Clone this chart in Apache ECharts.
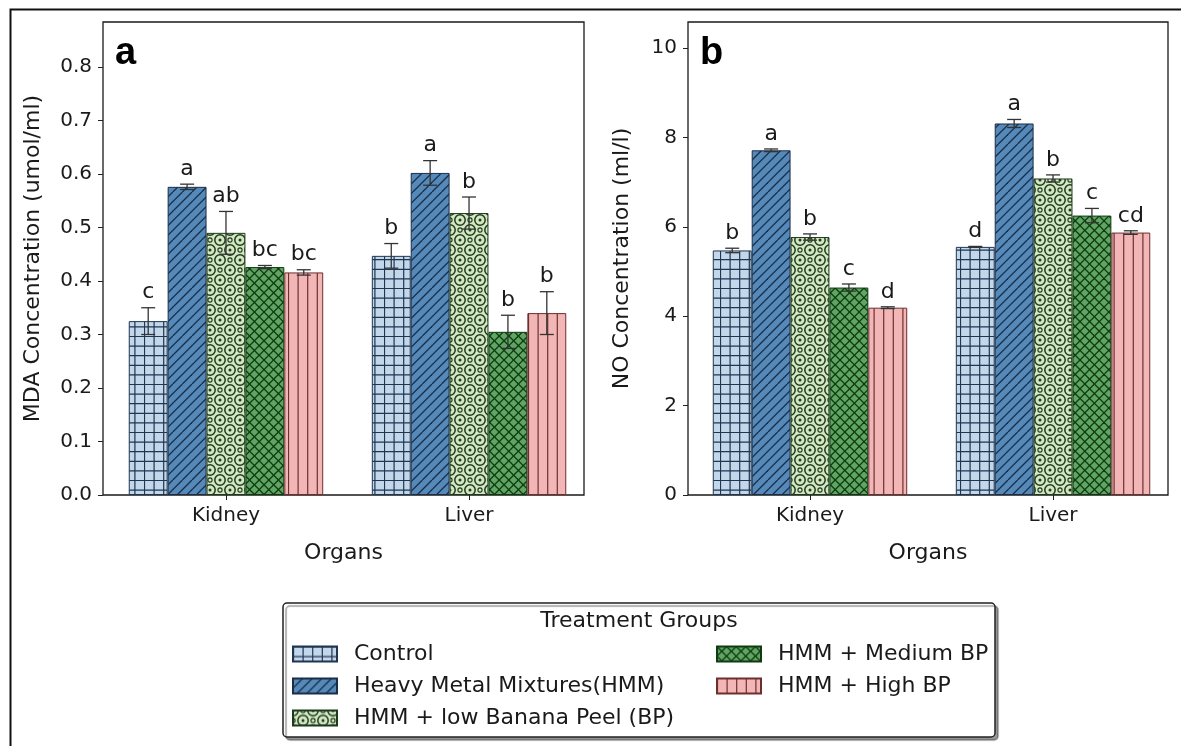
<!DOCTYPE html>
<html>
<head>
<meta charset="utf-8">
<script src="https://cdn.jsdelivr.net/npm/echarts@6/dist/echarts.min.js"></script>
<style>
  html, body { margin: 0; padding: 0; background: #fff; }
  #chart { width: 1181px; height: 746px; }
</style>
</head>
<body>
<div id="chart"></div>
<script>
// Organs on the x axis, treatment groups as grouped bars
const organs = ['Kidney', 'Liver'];
const groups = [
  'Control',
  'Heavy Metal Mixtures(HMM)',
  'HMM + low Banana Peel (BP)',
  'HMM + Medium BP',
  'HMM + High BP'
];

// Panel a: MDA concentration (umol/ml); rows = groups, columns = organs
const mdaMean = [[0.325, 0.447], [0.576, 0.602], [0.490, 0.527], [0.426, 0.305], [0.416, 0.340]];
const mdaErr = [[0.025, 0.023], [0.005, 0.023], [0.040, 0.030], [0.003, 0.031], [0.005, 0.040]];
const mdaLetters = [['c', 'b'], ['a', 'a'], ['ab', 'b'], ['bc', 'b'], ['bc', 'b']];

// Panel b: NO concentration (ml/l)
const noMean = [[5.47, 5.55], [7.71, 8.31], [5.77, 7.08], [4.64, 6.25], [4.19, 5.87]];
const noErr = [[0.05, 0.01], [0.03, 0.09], [0.07, 0.08], [0.08, 0.16], [0.02, 0.04]];
const noLetters = [['b', 'd'], ['a', 'a'], ['b', 'b'], ['c', 'c'], ['d', 'cd']];

// Tick labels
const yTicksA = [0, 0.1, 0.2, 0.3, 0.4, 0.5, 0.6, 0.7, 0.8];
const yTicksB = [0, 2, 4, 6, 8, 10];
const organTicks = [0, 1];

const FONT = '"DejaVu Sans", "Liberation Sans", sans-serif';
const TEXT = '#1a1a1a';
const BAR_FRAC = 0.16; // each bar takes 0.16 of the spacing between organs

// ---- hatch patterns ----
function tile(w, h, bg, draw) {
  const c = document.createElement('canvas');
  c.width = w; c.height = h;
  const ctx = c.getContext('2d');
  ctx.fillStyle = bg;
  ctx.fillRect(0, 0, w, h);
  draw(ctx);
  return { image: c, repeat: 'repeat' };
}
const S = 9.6, T = 48;
function gridHatch(ctx, col) {
  ctx.strokeStyle = col; ctx.lineWidth = 1.2;
  for (let k = 0; k < 5; k++) {
    const p = k * S + 0.5;
    ctx.beginPath(); ctx.moveTo(p, 0); ctx.lineTo(p, T); ctx.stroke();
    ctx.beginPath(); ctx.moveTo(0, p); ctx.lineTo(T, p); ctx.stroke();
  }
}
function diagHatch(ctx, col, both) {
  ctx.strokeStyle = col; ctx.lineWidth = 1.3;
  for (let k = -6; k <= 6; k++) {
    const o = k * S;
    ctx.beginPath(); ctx.moveTo(o, T); ctx.lineTo(o + T, 0); ctx.stroke();
    if (both) { ctx.beginPath(); ctx.moveTo(o, 0); ctx.lineTo(o + T, T); ctx.stroke(); }
  }
}
function vertHatch(ctx, col) {
  ctx.strokeStyle = col; ctx.lineWidth = 1.2;
  for (let k = 0; k < 5; k++) {
    const p = k * S + 0.5;
    ctx.beginPath(); ctx.moveTo(p, 0); ctx.lineTo(p, T); ctx.stroke();
  }
}
function ringHatch(ctx, col) {
  ctx.strokeStyle = col; ctx.fillStyle = col;
  // large rings with a centre dot, small rings in between (wrapped copies keep the tile seamless)
  const big = [[0, 0], [20, 0], [0, 20], [20, 20], [10, 10]];
  const small = [[10, 0], [10, 20], [0, 10], [20, 10]];
  big.forEach(([x, y]) => {
    ctx.lineWidth = 1.5;
    ctx.beginPath(); ctx.arc(x, y, 5.2, 0, Math.PI * 2); ctx.stroke();
    ctx.beginPath(); ctx.arc(x, y, 1.5, 0, Math.PI * 2); ctx.fill();
  });
  small.forEach(([x, y]) => {
    ctx.lineWidth = 1.1;
    ctx.beginPath(); ctx.arc(x, y, 2.1, 0, Math.PI * 2); ctx.stroke();
  });
}

const hatchColors = ['#1f3550', '#1b2e47', '#1e3a1c', '#0e3b10', '#6e2e2e'];
const fills = [
  tile(T, T, '#c3d7ea', ctx => gridHatch(ctx, hatchColors[0])),
  tile(T, T, '#5489b9', ctx => diagHatch(ctx, hatchColors[1], false)),
  tile(20, 20, '#d3e7c2', ctx => ringHatch(ctx, hatchColors[2])),
  tile(T, T, '#60a564', ctx => diagHatch(ctx, hatchColors[3], true)),
  tile(T, T, '#f2b6b6', ctx => vertHatch(ctx, hatchColors[4]))
];

// ---- panel layout ----
const panels = [
  { left: 103, width: 481, xMin: -0.506, xMax: 1.473, yMax: 0.8841, ticks: yTicksA,
    fmt: v => v.toFixed(1), name: 'MDA Concentration (umol/ml)', nameGap: 59,
    mean: mdaMean, err: mdaErr, letters: mdaLetters, tag: 'a' },
  { left: 688, width: 480, xMin: -0.502, xMax: 1.473, yMax: 10.58, ticks: yTicksB,
    fmt: v => String(Math.round(v)), name: 'NO Concentration (ml/l)', nameGap: 55,
    mean: noMean, err: noErr, letters: noLetters, tag: 'b' }
];
const TOP = 22, HEIGHT = 473;

const grid = panels.map(p => ({
  left: p.left, top: TOP, width: p.width, height: HEIGHT,
  show: true, borderColor: '#1a1a1a', borderWidth: 1.3, backgroundColor: 'transparent'
}));

const xAxis = panels.map((p, i) => ({
  type: 'value', gridIndex: i, min: p.xMin, max: p.xMax,
  axisLine: { show: false, onZero: false }, splitLine: { show: false },
  axisTick: { show: true, length: 5, customValues: organTicks, lineStyle: { color: '#222', width: 1 } },
  axisLabel: { customValues: organTicks, formatter: v => organs[Math.round(v)], margin: 11,
    fontSize: 20, fontFamily: FONT, color: TEXT },
  name: 'Organs', nameLocation: 'middle', nameGap: 47,
  nameTextStyle: { fontSize: 22, fontFamily: FONT, color: TEXT }
}));

const yAxis = panels.map((p, i) => ({
  type: 'value', gridIndex: i, min: 0, max: p.yMax,
  axisLine: { show: false, onZero: false }, splitLine: { show: false },
  axisTick: { show: true, length: 5, customValues: p.ticks, lineStyle: { color: '#222', width: 1 } },
  axisLabel: { customValues: p.ticks, formatter: p.fmt, margin: 11,
    fontSize: 20, fontFamily: FONT, color: TEXT },
  name: p.name, nameLocation: 'middle', nameGap: p.nameGap, nameRotate: 90,
  nameTextStyle: { fontSize: 22, fontFamily: FONT, color: TEXT }
}));

const series = [];
panels.forEach((p, pi) => {
  groups.forEach((g, gi) => {
    series.push({
      type: 'bar', name: g, xAxisIndex: pi, yAxisIndex: pi,
      data: organs.map((o, j) => [j, p.mean[gi][j]]),
      barWidth: (BAR_FRAC * 100) + '%', barGap: '0%',
      itemStyle: { color: fills[gi], borderColor: hatchColors[gi], borderWidth: 1 },
      emphasis: { disabled: true }, z: 2
    });
  });
  // error bars with significance letters
  const items = [];
  groups.forEach((g, gi) => organs.forEach((o, j) => items.push([j, gi, p.mean[gi][j], p.err[gi][j]])));
  series.push({
    type: 'custom', xAxisIndex: pi, yAxisIndex: pi, z: 5, clip: false,
    encode: { x: 0, y: 2 }, data: items, silent: true,
    renderItem: (params, api) => {
      const j = api.value(0), gi = api.value(1), m = api.value(2), e = api.value(3);
      const xc = j + (gi - 2) * BAR_FRAC;
      const pt = api.coord([xc, m + e]);
      const pb = api.coord([xc, m - e]);
      const cap = 7;
      const ls = { stroke: '#333', lineWidth: 1.3 };
      return {
        type: 'group', children: [
          { type: 'line', shape: { x1: pt[0], y1: pt[1], x2: pb[0], y2: pb[1] }, style: ls },
          { type: 'line', shape: { x1: pt[0] - cap, y1: pt[1], x2: pt[0] + cap, y2: pt[1] }, style: ls },
          { type: 'line', shape: { x1: pb[0] - cap, y1: pb[1], x2: pb[0] + cap, y2: pb[1] }, style: ls },
          { type: 'text', style: { text: p.letters[gi][j], x: pt[0], y: pt[1] - 4,
            align: 'center', verticalAlign: 'bottom', font: '22px ' + FONT, fill: TEXT } }
        ]
      };
    }
  });
});

const legendBase = {
  orient: 'vertical', padding: 0, itemWidth: 44, itemHeight: 15, itemGap: 10, icon: 'rect',
  selectedMode: false,
  textStyle: { fontSize: 22, fontFamily: FONT, color: TEXT, lineHeight: 22, padding: [0, 0, 0, 12] }
};
const legend = [
  Object.assign({}, legendBase, { left: 292, top: 643, data: groups.slice(0, 3) }),
  Object.assign({}, legendBase, { left: 716, top: 643, data: groups.slice(3) })
];

const graphic = [
  { type: 'rect', left: 8, top: 7, z: 0, silent: true,
    shape: { x: 0, y: 0, width: 1200, height: 760 },
    style: { fill: 'none', stroke: '#111', lineWidth: 2 } },
  { type: 'rect', z: 1, silent: true,
    shape: { x: 283, y: 603, width: 712, height: 134, r: 4 },
    style: { fill: '#fff', stroke: '#222', lineWidth: 1.5,
      shadowColor: 'rgba(0,0,0,0.4)', shadowOffsetX: 3, shadowOffsetY: 3, shadowBlur: 1 } },
  { type: 'text', z: 2, silent: true,
    style: { text: 'Treatment Groups', x: 639, y: 621, align: 'center', verticalAlign: 'middle',
      font: '22px ' + FONT, fill: TEXT } },
  { type: 'text', z: 6, silent: true,
    style: { text: panels[0].tag, x: 115, y: 54, align: 'left', verticalAlign: 'middle',
      font: 'bold 38px "Liberation Sans", Arial, sans-serif', fill: '#000' } },
  { type: 'text', z: 6, silent: true,
    style: { text: panels[1].tag, x: 700, y: 54, align: 'left', verticalAlign: 'middle',
      font: 'bold 38px "Liberation Sans", Arial, sans-serif', fill: '#000' } }
];

const chart = echarts.init(document.getElementById('chart'), null, { renderer: 'canvas' });
chart.setOption({
  backgroundColor: '#fff',
  animation: false,
  grid, xAxis, yAxis, series, legend, graphic
});
</script>
</body>
</html>
